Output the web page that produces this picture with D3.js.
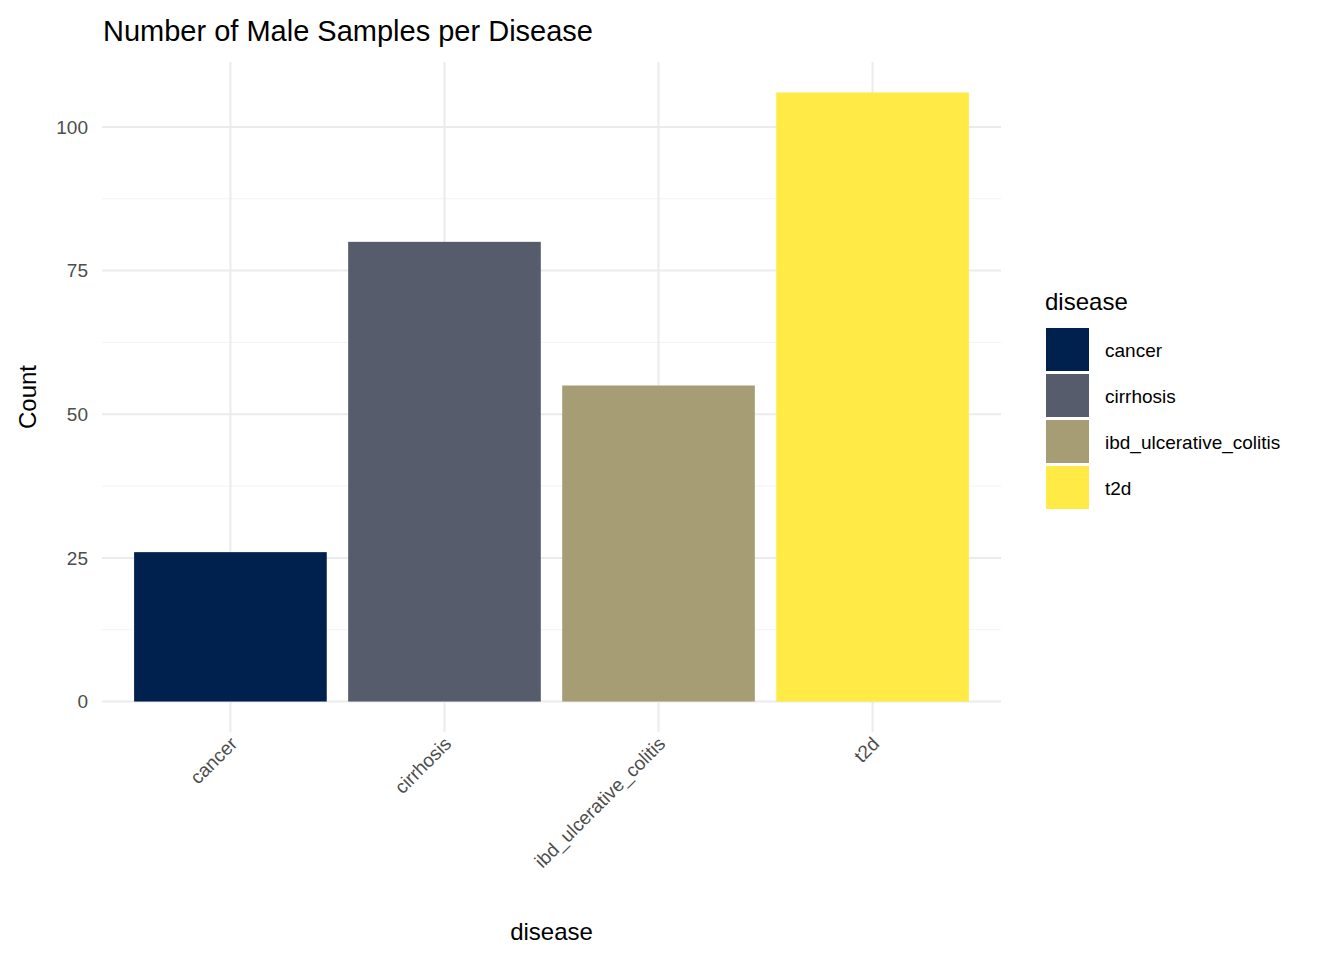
<!DOCTYPE html>
<html><head><meta charset="utf-8">
<script src="https://cdn.jsdelivr.net/npm/d3@7"></script>
<style>body{margin:0;background:#fff;font-family:"Liberation Sans",Arial,sans-serif;}</style>
</head><body>
<svg id="chart" width="1344" height="960"></svg>
<script>
const categories = ["cancer", "cirrhosis", "ibd_ulcerative_colitis", "t2d"];
const counts = [26, 80, 55, 106];
const colors = ["#00204D", "#575C6D", "#A69D75", "#FFEA46"];
const yTicks = [0, 25, 50, 75, 100];
const yMinor = [12.5, 37.5, 62.5, 87.5];

const svg = d3.select("#chart");
const plotLeft = 102, plotRight = 1001, plotTop = 62, plotBottom = 732;

const x = d3.scaleBand().domain(categories).range([plotLeft, plotRight])
  .paddingInner(0.1).paddingOuter(0.15);
const maxV = d3.max(counts);
const y = d3.scaleLinear().domain([-maxV * 0.05, maxV * 1.05]).range([plotBottom, plotTop]);

// grid
svg.append("g").selectAll("line").data(yMinor).join("line")
  .attr("x1", plotLeft).attr("x2", plotRight)
  .attr("y1", d => y(d)).attr("y2", d => y(d))
  .attr("stroke", "#f3f3f3").attr("stroke-width", 1);
svg.append("g").selectAll("line").data(yTicks).join("line")
  .attr("x1", plotLeft).attr("x2", plotRight)
  .attr("y1", d => y(d)).attr("y2", d => y(d))
  .attr("stroke", "#ebebeb").attr("stroke-width", 2);
svg.append("g").selectAll("line").data(categories).join("line")
  .attr("x1", d => x(d) + x.bandwidth() / 2).attr("x2", d => x(d) + x.bandwidth() / 2)
  .attr("y1", plotTop).attr("y2", plotBottom)
  .attr("stroke", "#ebebeb").attr("stroke-width", 2);

// bars
svg.append("g").selectAll("rect").data(categories).join("rect")
  .attr("x", d => x(d)).attr("width", x.bandwidth())
  .attr("y", (d, i) => y(counts[i])).attr("height", (d, i) => y(0) - y(counts[i]))
  .attr("fill", (d, i) => colors[i]);

// y tick labels
svg.append("g").selectAll("text").data(yTicks).join("text")
  .attr("x", 88).attr("y", d => y(d)).attr("dy", "0.35em")
  .attr("text-anchor", "end").attr("font-size", 19).attr("fill", "#4d4d4d")
  .text(d => d);

// x tick labels
svg.append("g").selectAll("text").data(categories).join("text")
  .attr("transform", d => `translate(${x(d) + x.bandwidth() / 2 + 8},${745}) rotate(-45)`)
  .attr("text-anchor", "end").attr("font-size", 19).attr("fill", "#4d4d4d")
  .text(d => d);

// axis titles
svg.append("text").attr("x", (plotLeft + plotRight) / 2).attr("y", 940)
  .attr("text-anchor", "middle").attr("font-size", 24).text("disease");
svg.append("text").attr("transform", `translate(36,${(plotTop + plotBottom) / 2}) rotate(-90)`)
  .attr("text-anchor", "middle").attr("font-size", 24).text("Count");

// title
svg.append("text").attr("x", 103).attr("y", 41).attr("font-size", 29).text("Number of Male Samples per Disease");

// legend
const lg = svg.append("g");
lg.append("text").attr("x", 1045).attr("y", 310).attr("font-size", 24).text("disease");
const items = lg.selectAll("g").data(categories).join("g")
  .attr("transform", (d, i) => `translate(1046,${328 + i * 46})`);
items.append("rect").attr("width", 43).attr("height", 43).attr("fill", (d, i) => colors[i]);
items.append("text").attr("x", 59).attr("y", 22).attr("dy", "0.35em")
  .attr("font-size", 19).text(d => d);
</script>
</body></html>
